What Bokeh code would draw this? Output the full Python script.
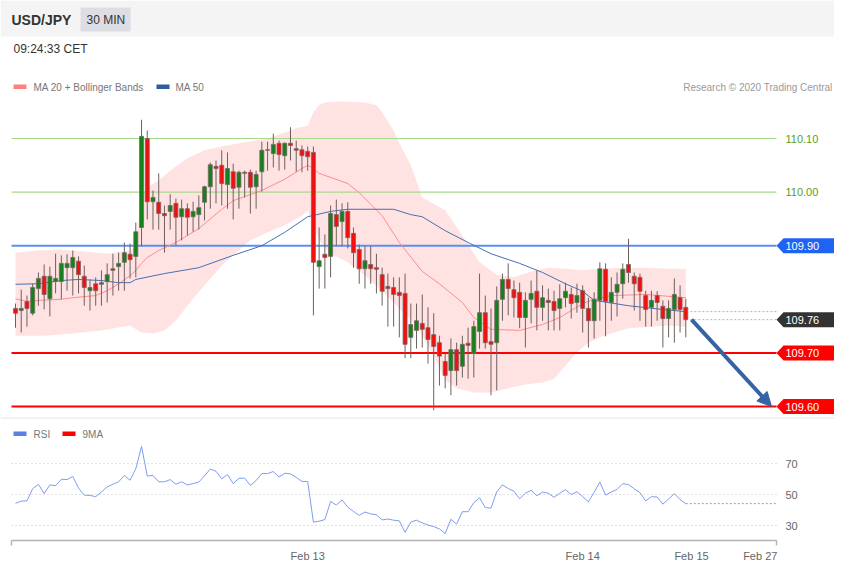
from bokeh.plotting import figure
from bokeh.models import (Range1d, LinearAxis, FixedTicker, PrintfTickFormatter,
                          ColumnDataSource, BoxAnnotation, Label, Span, Arrow, NormalHead)
from bokeh.embed import file_html
from bokeh.resources import INLINE
from bokeh.core.properties import value

# ---------------- data ----------------
opens = [109.783, 109.779, 109.796, 109.774, 109.820, 109.843, 109.801, 109.833, 109.833, 109.859,
         109.859, 109.871, 109.843, 109.816, 109.829, 109.828, 109.833, 109.857, 109.861, 109.869,
         109.884, 109.880, 109.934, 110.100, 109.982, 109.981, 109.960, 109.964, 109.979, 109.954,
         109.969, 109.954, 109.958, 109.981, 110.010, 110.048, 110.050, 110.014, 110.038, 110.009,
         110.037, 110.037, 110.010, 110.038, 110.079, 110.072, 110.091, 110.068, 110.091, 110.081,
         110.079, 110.076, 110.074, 109.861, 109.884, 109.880, 109.958, 109.945, 109.964, 109.923,
         109.893, 109.857, 109.865, 109.859, 109.846, 109.824, 109.822, 109.813, 109.811, 109.729,
         109.742, 109.755, 109.747, 109.734, 109.719, 109.684, 109.667, 109.706, 109.675, 109.718,
         109.699, 109.740, 109.775, 109.721, 109.719, 109.800, 109.837, 109.818, 109.813, 109.766,
         109.800, 109.815, 109.785, 109.798, 109.796, 109.783, 109.803, 109.809, 109.794, 109.816,
         109.783, 109.760, 109.798, 109.856, 109.794, 109.813, 109.829, 109.865, 109.843, 109.841,
         109.807, 109.785, 109.807, 109.787, 109.764, 109.781, 109.803, 109.785]
highs = [109.792, 109.818, 109.807, 109.829, 109.850, 109.865, 109.861, 109.885, 109.882, 109.884,
         109.891, 109.880, 109.863, 109.837, 109.841, 109.854, 109.867, 109.885, 109.887, 109.906,
         109.904, 109.943, 110.135, 110.115, 110.003, 110.035, 109.975, 109.996, 109.988, 109.986,
         109.979, 109.982, 109.994, 110.012, 110.055, 110.059, 110.078, 110.074, 110.053, 110.040,
         110.040, 110.042, 110.040, 110.094, 110.094, 110.109, 110.096, 110.093, 110.121, 110.096,
         110.087, 110.085, 110.085, 109.934, 109.921, 109.975, 109.986, 109.979, 109.981, 109.934,
         109.902, 109.899, 109.899, 109.885, 109.859, 109.848, 109.841, 109.841, 109.848, 109.792,
         109.792, 109.809, 109.785, 109.774, 109.732, 109.699, 109.727, 109.719, 109.732, 109.747,
         109.760, 109.848, 109.807, 109.783, 109.824, 109.848, 109.867, 109.835, 109.831, 109.813,
         109.835, 109.854, 109.826, 109.820, 109.816, 109.828, 109.831, 109.822, 109.829, 109.826,
         109.803, 109.813, 109.869, 109.867, 109.841, 109.850, 109.867, 109.913, 109.850, 109.848,
         109.816, 109.816, 109.815, 109.798, 109.798, 109.839, 109.826, 109.801]
lows = [109.747, 109.738, 109.749, 109.770, 109.788, 109.781, 109.768, 109.811, 109.800, 109.816,
        109.807, 109.811, 109.788, 109.779, 109.788, 109.788, 109.794, 109.807, 109.816, 109.816,
        109.839, 109.841, 109.899, 109.949, 109.930, 109.930, 109.887, 109.930, 109.900, 109.910,
        109.919, 109.926, 109.930, 109.947, 109.969, 109.979, 109.975, 109.969, 109.949, 109.969,
        109.990, 109.960, 109.969, 110.001, 110.040, 110.046, 110.040, 110.042, 110.059, 110.038,
        110.037, 110.040, 109.770, 109.820, 109.820, 109.841, 109.900, 109.899, 109.895, 109.859,
        109.829, 109.820, 109.829, 109.811, 109.788, 109.749, 109.749, 109.729, 109.690, 109.690,
        109.708, 109.710, 109.680, 109.593, 109.639, 109.634, 109.621, 109.639, 109.654, 109.652,
        109.654, 109.708, 109.708, 109.621, 109.630, 109.760, 109.770, 109.766, 109.746, 109.710,
        109.755, 109.742, 109.760, 109.742, 109.742, 109.742, 109.785, 109.764, 109.775, 109.738,
        109.710, 109.727, 109.760, 109.731, 109.760, 109.768, 109.801, 109.831, 109.779, 109.760,
        109.749, 109.749, 109.760, 109.710, 109.729, 109.719, 109.738, 109.729]
closes = [109.774, 109.783, 109.783, 109.822, 109.839, 109.809, 109.843, 109.839, 109.867, 109.867,
          109.878, 109.846, 109.822, 109.822, 109.816, 109.831, 109.846, 109.854, 109.867, 109.887,
          109.874, 109.926, 110.104, 109.982, 109.990, 109.960, 109.956, 109.975, 109.953, 109.969,
          109.953, 109.964, 109.971, 110.010, 110.051, 110.044, 110.016, 110.044, 110.007, 110.037,
          110.035, 110.009, 110.033, 110.078, 110.078, 110.089, 110.070, 110.091, 110.087, 110.078,
          110.068, 110.066, 109.869, 109.872, 109.878, 109.960, 109.936, 109.964, 109.915, 109.887,
          109.857, 109.872, 109.857, 109.856, 109.815, 109.820, 109.809, 109.807, 109.716, 109.753,
          109.760, 109.744, 109.725, 109.712, 109.694, 109.658, 109.706, 109.667, 109.716, 109.714,
          109.749, 109.775, 109.719, 109.716, 109.798, 109.837, 109.820, 109.803, 109.766, 109.798,
          109.811, 109.785, 109.803, 109.794, 109.779, 109.801, 109.815, 109.792, 109.807, 109.783,
          109.760, 109.800, 109.857, 109.796, 109.813, 109.828, 109.856, 109.850, 109.829, 109.815,
          109.781, 109.798, 109.794, 109.764, 109.783, 109.809, 109.781, 109.762]

rsi = [44.3, 45.7, 45.9, 53.7, 56.6, 50.6, 56.2, 55.7, 59.8, 59.6,
       61.7, 54.1, 49.6, 49.4, 48.6, 51.6, 54.9, 56.6, 58.2, 62.3,
       59.2, 66.6, 81.0, 61.9, 62.3, 58.2, 58.2, 59.6, 56.6, 58.2,
       56.2, 57.0, 58.0, 62.1, 66.4, 65.0, 60.1, 62.9, 57.0, 60.5,
       60.5, 55.9, 59.0, 63.5, 63.5, 64.8, 61.3, 63.7, 63.3, 61.1,
       58.4, 58.4, 32.2, 32.8, 33.8, 45.5, 43.2, 46.5, 41.8, 39.1,
       36.5, 38.7, 37.5, 36.9, 33.6, 34.2, 33.4, 33.0, 25.6, 32.2,
       33.4, 31.7, 30.3, 29.3, 27.8, 24.8, 34.0, 30.9, 38.9, 38.9,
       44.7, 47.9, 41.6, 41.2, 51.8, 56.2, 53.9, 52.1, 47.3, 50.8,
       52.7, 49.2, 51.6, 50.8, 48.2, 50.8, 53.1, 50.0, 51.8, 48.6,
       45.3, 51.4, 58.0, 49.6, 51.6, 53.3, 57.0, 56.4, 53.7, 51.2,
       45.9, 48.6, 48.4, 43.8, 47.1, 50.6, 46.7, 44.1]

bb_upper_idx = [0, 4, 8, 12, 16, 20, 21, 22, 23, 25, 27, 30, 33, 36, 40, 44, 47, 49, 51, 52, 53, 54,
                57, 61, 63, 64, 66, 67, 69, 71, 75, 78, 81, 84, 87, 90, 93, 96, 99, 102, 106, 110, 114, 117]
bb_upper = [109.887, 109.891, 109.893, 109.889, 109.885, 109.891, 109.899, 109.994, 110.009, 110.022,
            110.040, 110.063, 110.078, 110.085, 110.093, 110.100, 110.111, 110.119, 110.124, 110.149,
            110.162, 110.167, 110.169, 110.167, 110.162, 110.149, 110.115, 110.091, 110.050, 109.990,
            109.966, 109.919, 109.869, 109.846, 109.841, 109.852, 109.859, 109.857, 109.854, 109.857,
            109.859, 109.859, 109.857, 109.857]
bb_lower_idx = [0, 5, 10, 15, 20, 22, 24, 26, 28, 30, 33, 36, 38, 41, 44, 47, 50, 51, 52, 53, 55, 58,
                61, 64, 67, 70, 73, 75, 77, 80, 83, 86, 89, 92, 94, 96, 98, 100, 102, 104, 107, 111, 114, 117]
bb_lower = [109.732, 109.732, 109.736, 109.742, 109.751, 109.738, 109.736, 109.742, 109.760, 109.788,
            109.826, 109.863, 109.882, 109.910, 109.925, 109.938, 109.956, 109.966, 109.938, 109.910,
            109.885, 109.869, 109.844, 109.816, 109.783, 109.751, 109.695, 109.649, 109.634, 109.626,
            109.626, 109.634, 109.641, 109.645, 109.652, 109.676, 109.701, 109.719, 109.729, 109.736,
            109.746, 109.749, 109.751, 109.749]
ma20_idx = [0, 2, 4, 8, 10, 14, 16, 18, 20, 21, 22, 23, 25, 28, 32, 36, 38, 43, 47, 50, 51, 52, 53,
            58, 60, 64, 67, 71, 74, 78, 80, 83, 88, 92, 95, 99, 101, 104, 110, 117]
ma20 = [109.801, 109.796, 109.798, 109.800, 109.803, 109.807, 109.816, 109.829, 109.844, 109.854,
        109.867, 109.878, 109.891, 109.906, 109.932, 109.968, 109.984, 110.003, 110.024, 110.044,
        110.050, 110.044, 110.035, 110.016, 109.999, 109.956, 109.906, 109.852, 109.829, 109.794,
        109.766, 109.744, 109.742, 109.753, 109.766, 109.792, 109.800, 109.807, 109.809, 109.803]
ma50_idx = [0, 4, 8, 11, 15, 18, 20, 21, 26, 32, 38, 43, 47, 51, 55, 58, 66, 69, 71, 75, 79, 83,
            88, 92, 96, 99, 101, 107, 113, 117]
ma50 = [109.828, 109.829, 109.835, 109.837, 109.835, 109.831, 109.831, 109.837, 109.848, 109.859,
        109.882, 109.900, 109.925, 109.954, 109.964, 109.968, 109.968, 109.958, 109.954, 109.928,
        109.906, 109.885, 109.867, 109.850, 109.829, 109.815, 109.798, 109.788, 109.781, 109.777]

green_levels = [110.10, 110.00]
box_levels = [109.90, 109.70, 109.60]
box_colors = ["#1f63f2", "#ff0000", "#ff0000"]
line_colors = ["#5b8ff0", "#ff0000", "#ff0000"]
target_level = 109.60
rsi_levels = [30, 50, 70]
date_ticks = [51, 99, 118, 130]
date_labels = ["Feb 13", "Feb 14", "Feb 15", "Feb 27"]

# ---------------- layout helpers (canvas pixels -> data units) ----------------
W, H = 834, 560
X0_PX, STEP = 15.0, 5.729    # x of first candle, px per candle
P_REF, P_REF_PY, PX_PER_P = 110.10, 138.0, 536.0
R_REF, R_REF_PY, PX_PER_R = 50.0, 494.0, 1.55


def ix(px):
    return (px - X0_PX) / STEP


def pr(py):
    return P_REF - (py - P_REF_PY) / PX_PER_P


def rs(py):
    return R_REF - (py - R_REF_PY) / PX_PER_R


FONT = "Liberation Sans"
X_LEFT, X_RIGHT = ix(11), ix(776)

p = figure(width=W, height=H, output_backend="svg", toolbar_location=None, tools="",
           x_range=Range1d(ix(0), ix(W)), y_range=Range1d(pr(H), pr(0)),
           x_axis_location=None, y_axis_location=None, min_border=0,
           outline_line_color=None, background_fill_color="white", border_fill_color="white")
p.extra_y_ranges = {"rsi": Range1d(rs(H), rs(0))}
p.xgrid.visible = False
p.ygrid.visible = False

# header band and time-frame badge
p.add_layout(BoxAnnotation(bottom=pr(36), fill_color="#f4f4f5", fill_alpha=1,
                           line_color=None, level="underlay"))
p.add_layout(BoxAnnotation(left=ix(80), right=ix(130), top=pr(7), bottom=pr(31),
                           fill_color="#dcdee3", fill_alpha=1, line_color=None, level="underlay"))
p.add_layout(Label(x=ix(11), y=pr(19.5), text="USD/JPY", text_font=FONT, text_font_style="bold",
                   text_font_size="14px", text_color="#333333", text_baseline="middle"))
p.add_layout(Label(x=ix(86), y=pr(19.5), text="30 MIN", text_font=FONT,
                   text_font_size="12px", text_color="#333333", text_baseline="middle"))
p.add_layout(Label(x=ix(13), y=pr(48), text="09:24:33 CET", text_font=FONT,
                   text_font_size="12px", text_color="#333333", text_baseline="middle"))

# legends
p.add_layout(BoxAnnotation(left=ix(13), right=ix(26), top=pr(84), bottom=pr(88.5),
                           fill_color="#ff8080", fill_alpha=1, line_color=None))
p.add_layout(Label(x=ix(33), y=pr(86.5), text="MA 20 + Bollinger Bands", text_font=FONT,
                   text_font_size="10px", text_color="#777777", text_baseline="middle"))
p.add_layout(BoxAnnotation(left=ix(156), right=ix(169), top=pr(84), bottom=pr(88.5),
                           fill_color="#2f5d9f", fill_alpha=1, line_color=None))
p.add_layout(Label(x=ix(175), y=pr(86.5), text="MA 50", text_font=FONT,
                   text_font_size="10px", text_color="#777777", text_baseline="middle"))
p.add_layout(Label(x=ix(832), y=pr(86.5), text="Research \u00a9 2020 Trading Central", text_font=FONT,
                   text_font_size="10px", text_color="#9a9a9a", text_baseline="middle",
                   text_align="right"))
p.add_layout(BoxAnnotation(left=ix(13), right=ix(26), top=pr(431), bottom=pr(435.5),
                           fill_color="#5b7fe3", fill_alpha=1, line_color=None))
p.add_layout(Label(x=ix(33), y=pr(433.5), text="RSI", text_font=FONT,
                   text_font_size="10px", text_color="#777777", text_baseline="middle"))
p.add_layout(BoxAnnotation(left=ix(62), right=ix(75), top=pr(431), bottom=pr(435.5),
                           fill_color="#ff0000", fill_alpha=1, line_color=None))
p.add_layout(Label(x=ix(82), y=pr(433.5), text="9MA", text_font=FONT,
                   text_font_size="10px", text_color="#777777", text_baseline="middle"))

# panel separator
p.add_layout(Span(location=pr(417.5), dimension="width", line_color="#e4e4e4", line_width=1))

# Bollinger band
band_x = bb_upper_idx + bb_lower_idx[::-1]
band_y = bb_upper + bb_lower[::-1]
p.patch(band_x, band_y, fill_color="#ffe2e2", fill_alpha=1, line_color=None)

# level lines
p.segment(x0=[X_LEFT] * len(green_levels), x1=[X_RIGHT] * len(green_levels),
          y0=green_levels, y1=green_levels, line_color="#a8da8c", line_width=1.2)
p.segment(x0=[X_LEFT] * len(box_levels), x1=[X_RIGHT] * len(box_levels),
          y0=box_levels, y1=box_levels, line_color=line_colors, line_width=2)

# moving averages
p.line(ma20_idx, ma20, line_color="#ff8c8c", line_width=1)
p.line(ma50_idx, ma50, line_color="#4670b5", line_width=1)

# candles
n = len(closes)
idx = list(range(n))
src = ColumnDataSource(dict(
    x=idx, h=highs, l=lows,
    top=[max(o, c) for o, c in zip(opens, closes)],
    bottom=[min(o, c) for o, c in zip(opens, closes)],
    color=["#14821a" if c >= o else "#f2100f" for o, c in zip(opens, closes)]))
p.segment(x0="x", y0="h", x1="x", y1="l", source=src, line_color="#6e6060", line_width=1)
p.vbar(x="x", width=0.7, top="top", bottom="bottom", fill_color="color",
       line_color="#7a6666", line_width=0.8, source=src)

# dotted extensions of last close and MA50
last = closes[-1]
p.segment(x0=[n - 0.2, n - 0.2], x1=[X_RIGHT, X_RIGHT], y0=[last, ma50[-1]], y1=[last, ma50[-1]],
          line_color="#a9b6c9", line_width=1, line_dash="2 2")

# price boxes at the right
hh = 7.5 / PX_PER_P
bx_levels = box_levels + [last]
bx_colors = box_colors + ["#333333"]
xs = [[ix(776), ix(783), ix(W), ix(W), ix(783)] for _ in bx_levels]
ys = [[lv, lv + hh, lv + hh, lv - hh, lv - hh] for lv in bx_levels]
p.patches(xs, ys, fill_color=bx_colors, line_color=None)
p.text(x=[ix(785)] * len(bx_levels), y=bx_levels, text=[f"{lv:.2f}" for lv in bx_levels],
       text_color="white", text_font=value(FONT), text_font_size="11px", text_baseline="middle")

# forecast arrow
arrow_color = "#3563a3"
p.add_layout(Arrow(end=NormalHead(size=14, fill_color=arrow_color, line_color=arrow_color),
                   x_start=n, y_start=last, x_end=ix(771), y_end=target_level,
                   line_color=arrow_color, line_width=4))

# RSI panel
p.segment(x0=[X_LEFT] * 3, x1=[X_RIGHT] * 3, y0=rsi_levels, y1=rsi_levels, y_range_name="rsi",
          line_color="#c4c4c4", line_width=1, line_dash="1 3")
p.line(idx, rsi, y_range_name="rsi", line_color="#7f9cf0", line_width=1)
p.segment(x0=[n - 1], x1=[X_RIGHT], y0=[rsi[-1]], y1=[rsi[-1]], y_range_name="rsi",
          line_color="#7f9cf0", line_width=1, line_dash="2 2")

# axes
xaxis = LinearAxis(fixed_location=pr(540), bounds=(X_LEFT, X_RIGHT),
                   ticker=FixedTicker(ticks=date_ticks, minor_ticks=[X_LEFT + 0.01, X_RIGHT - 0.01]),
                   major_label_overrides=dict(zip(date_ticks, date_labels)),
                   axis_line_color="#b4b4b4", axis_line_width=1.5,
                   major_tick_line_color=None, major_tick_out=0, major_tick_in=0,
                   minor_tick_line_color="#b4b4b4", minor_tick_line_width=1.5,
                   minor_tick_in=0, minor_tick_out=5,
                   major_label_text_font=FONT, major_label_text_font_size="11px",
                   major_label_text_color="#666666", major_label_standoff=4)
p.add_layout(xaxis, "below")

rsi_axis = LinearAxis(y_range_name="rsi", fixed_location=X_RIGHT,
                      ticker=FixedTicker(ticks=rsi_levels, minor_ticks=[]),
                      axis_line_color=None, major_tick_line_color=None, minor_tick_line_color=None,
                      major_tick_out=0, major_tick_in=0,
                      major_label_text_font=FONT, major_label_text_font_size="11px",
                      major_label_text_color="#666666", major_label_standoff=9)
p.add_layout(rsi_axis, "right")

price_axis = LinearAxis(fixed_location=X_RIGHT,
                        ticker=FixedTicker(ticks=green_levels, minor_ticks=[]),
                        formatter=PrintfTickFormatter(format="%.2f"),
                        axis_line_color=None, major_tick_line_color=None, minor_tick_line_color=None,
                        major_tick_out=0, major_tick_in=0,
                        major_label_text_font=FONT, major_label_text_font_size="11px",
                        major_label_text_color="#5a9e22", major_label_standoff=9)
p.add_layout(price_axis, "right")

open("out.html", "w").write(file_html(p, INLINE))
